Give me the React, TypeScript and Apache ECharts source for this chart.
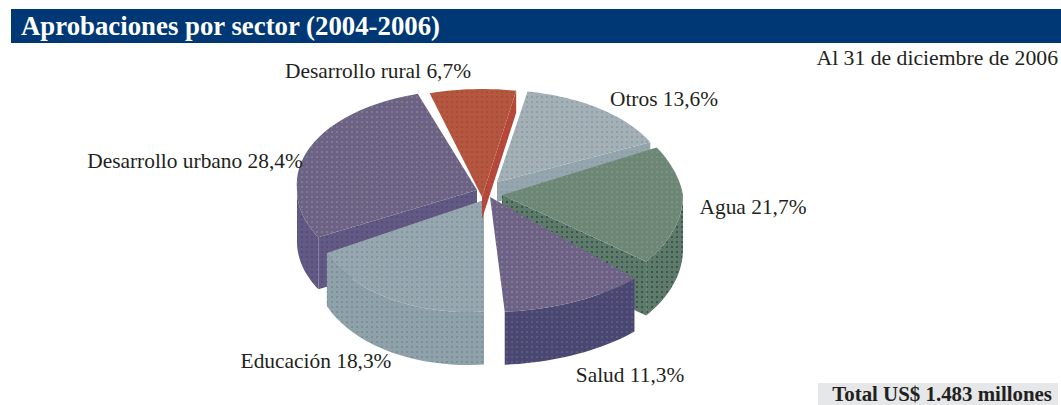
import React, { useEffect, useRef } from "react";
import * as echarts from "echarts";

const categories = ["Desarrollo rural", "Otros", "Agua", "Salud", "Educación", "Desarrollo urbano"];
const shares = [6.7, 13.6, 21.7, 11.3, 18.3, 28.4];
const titleText = "Aprobaciones por sector (2004-2006)";
const dateText = "Al 31 de diciembre de 2006";
const totalText = "Total US$ 1.483 millones";

const START_ANGLE = -16;
const zOf = [4, 1, 2, 5, 3, 0];
// per-slice projected geometry of the hand-tilted, exploded pie
const geometry = [
  { cx: 482, cy: 197, rx: 190, ry: 108, depth: 22, warp: 8, up: 0, dn: 0 },
  { cx: 497, cy: 182, rx: 170, ry: 92, depth: 20, warp: 8, up: 0, dn: 0 },
  { cx: 502, cy: 195, rx: 181, ry: 110, depth: 54, warp: 8, up: 0.18, dn: 0 },
  { cx: 490, cy: 197, rx: 205, ry: 115, depth: 53, warp: 0, up: 0, dn: 0 },
  { cx: 484, cy: 200, rx: 170, ry: 112, depth: 53, warp: 8, up: 0, dn: -0.14 },
  { cx: 477, cy: 190, rx: 180, ry: 100, depth: 52, warp: 8, up: 0.1, dn: 0 },
];
const topColors = [
  ["#b5573f", "#a84d3e"],
  ["#a3b1b6", "#8f9ea8"],
  ["#6d8776", "#7f9180"],
  ["#6d6286", "#837a94"],
  ["#97a7af", "#84959f"],
  ["#6c6285", "#82798f"],
];
const wallColors = [
  ["#b8483a", "#a8433a"],
  ["#95a6ae", "#8a9ca6"],
  ["#5d7a6b", "#3b564c"],
  ["#4a4873", "#5c5a80"],
  ["#8fa1a9", "#7c909c"],
  ["#625a84", "#544e78"],
];
const labelPos: [number, number][] = [
  [378, 71],
  [664, 99],
  [753, 207],
  [630, 375],
  [316, 361],
  [195, 161],
];

function dots(c: string[]) {
  const cv = document.createElement("canvas");
  cv.width = 5;
  cv.height = 5;
  const g = cv.getContext("2d")!;
  g.fillStyle = c[0];
  g.fillRect(0, 0, 5, 5);
  g.fillStyle = c[1];
  g.fillRect(1, 1, 2, 2);
  return { image: cv, repeat: "repeat" as const };
}
const warp = (a: number, k: number) => {
  const r = (a * Math.PI) / 180;
  return Math.sin(r) > 0 ? a + k * Math.sin(2 * r) : a;
};

export default function App() {
  const ref = useRef<HTMLDivElement>(null);
  useEffect(() => {
    document.body.style.margin = "0";
    const chart = echarts.init(ref.current!, null, { renderer: "svg" });
    const total = shares.reduce((s, v) => s + v, 0);
    const topFills = topColors.map(dots);
    const wallFills = wallColors.map(dots);
    const renderItem = (params: any, api: any) => {
      const i = params.dataIndex;
      const before = shares.slice(0, i).reduce((s, v) => s + v, 0);
      const a0 = START_ANGLE + (before / total) * 360;
      const a1 = a0 + (api.value(0) / total) * 360;
      const G = geometry[i];
      const a = warp(a0, G.warp), b = warp(a1, G.warp);
      const P = (t: number, d = 0): number[] => {
        const r = (t * Math.PI) / 180;
        const dy = -G.ry * Math.cos(r);
        return [G.cx + G.rx * Math.sin(r) + dy * (dy < 0 ? G.up : G.dn), G.cy + dy + d];
      };
      const arcPts = (from: number, to: number, d = 0) => {
        const n = Math.max(2, Math.ceil(Math.abs(to - from) / 2));
        return Array.from({ length: n + 1 }, (_, k) => P(from + ((to - from) * k) / n, d));
      };
      const children: any[] = [];
      const z2 = zOf[i] * 10;
      const poly = (points: number[][], fill: any, z: number) =>
        children.push({ type: "polygon", shape: { points }, style: { fill, stroke: null }, z2: z2 + z });
      const O = [G.cx, G.cy];
      const O2 = [G.cx, G.cy + G.depth];
      const sa = Math.sin((a * Math.PI) / 180), sb = Math.sin((b * Math.PI) / 180);
      if (sa < -0.3) poly([O, P(a), P(a, G.depth), O2], wallFills[i], 0);
      if (sb > 0.1) poly([O, P(b), P(b, G.depth), O2], wallFills[i], 0);
      const lo = Math.max(a, 90), hi = Math.min(b, 270);
      if (hi > lo) poly([...arcPts(lo, hi), ...arcPts(hi, lo, G.depth)], wallFills[i], 1);
      poly([O, ...arcPts(a, b)], topFills[i], 2);
      return { type: "group", children };
    };
    const serif = "'Liberation Serif', serif";
    chart.setOption({
      animation: false,
      xAxis: { show: false },
      yAxis: { show: false },
      graphic: [
        { type: "rect", shape: { x: 11, y: 9, width: 1050, height: 34 }, style: { fill: "#003876" } },
        { type: "text", x: 21, y: 26, style: { text: titleText, fill: "#fff", font: `bold 26.8px ${serif}`, textVerticalAlign: "middle" } },
        { type: "text", x: 1058, y: 58, style: { text: dateText, fill: "#231f20", font: `21.7px ${serif}`, textAlign: "right", textVerticalAlign: "middle" } },
        { type: "rect", shape: { x: 818, y: 383, width: 240, height: 22 }, style: { fill: "#e6e7e8" } },
        { type: "text", x: 1052, y: 394, style: { text: totalText, fill: "#231f20", font: `bold 20.9px ${serif}`, textAlign: "right", textVerticalAlign: "middle" } },
        ...categories.map((c, i) => ({
          type: "text",
          x: labelPos[i][0],
          y: labelPos[i][1],
          z: 10,
          style: {
            text: `${c} ${String(shares[i]).replace(".", ",")}%`,
            fill: "#231f20",
            font: `21.4px ${serif}`,
            textAlign: "center",
            textVerticalAlign: "middle",
          },
        })),
      ],
      series: [
        {
          type: "custom",
          coordinateSystem: "none",
          renderItem,
          data: shares.map((v) => [v]),
          silent: true,
        },
      ],
    });
    return () => chart.dispose();
  }, []);
  return <div ref={ref} style={{ position: "absolute", left: 0, top: 0, width: 1061, height: 405 }} />;
}
